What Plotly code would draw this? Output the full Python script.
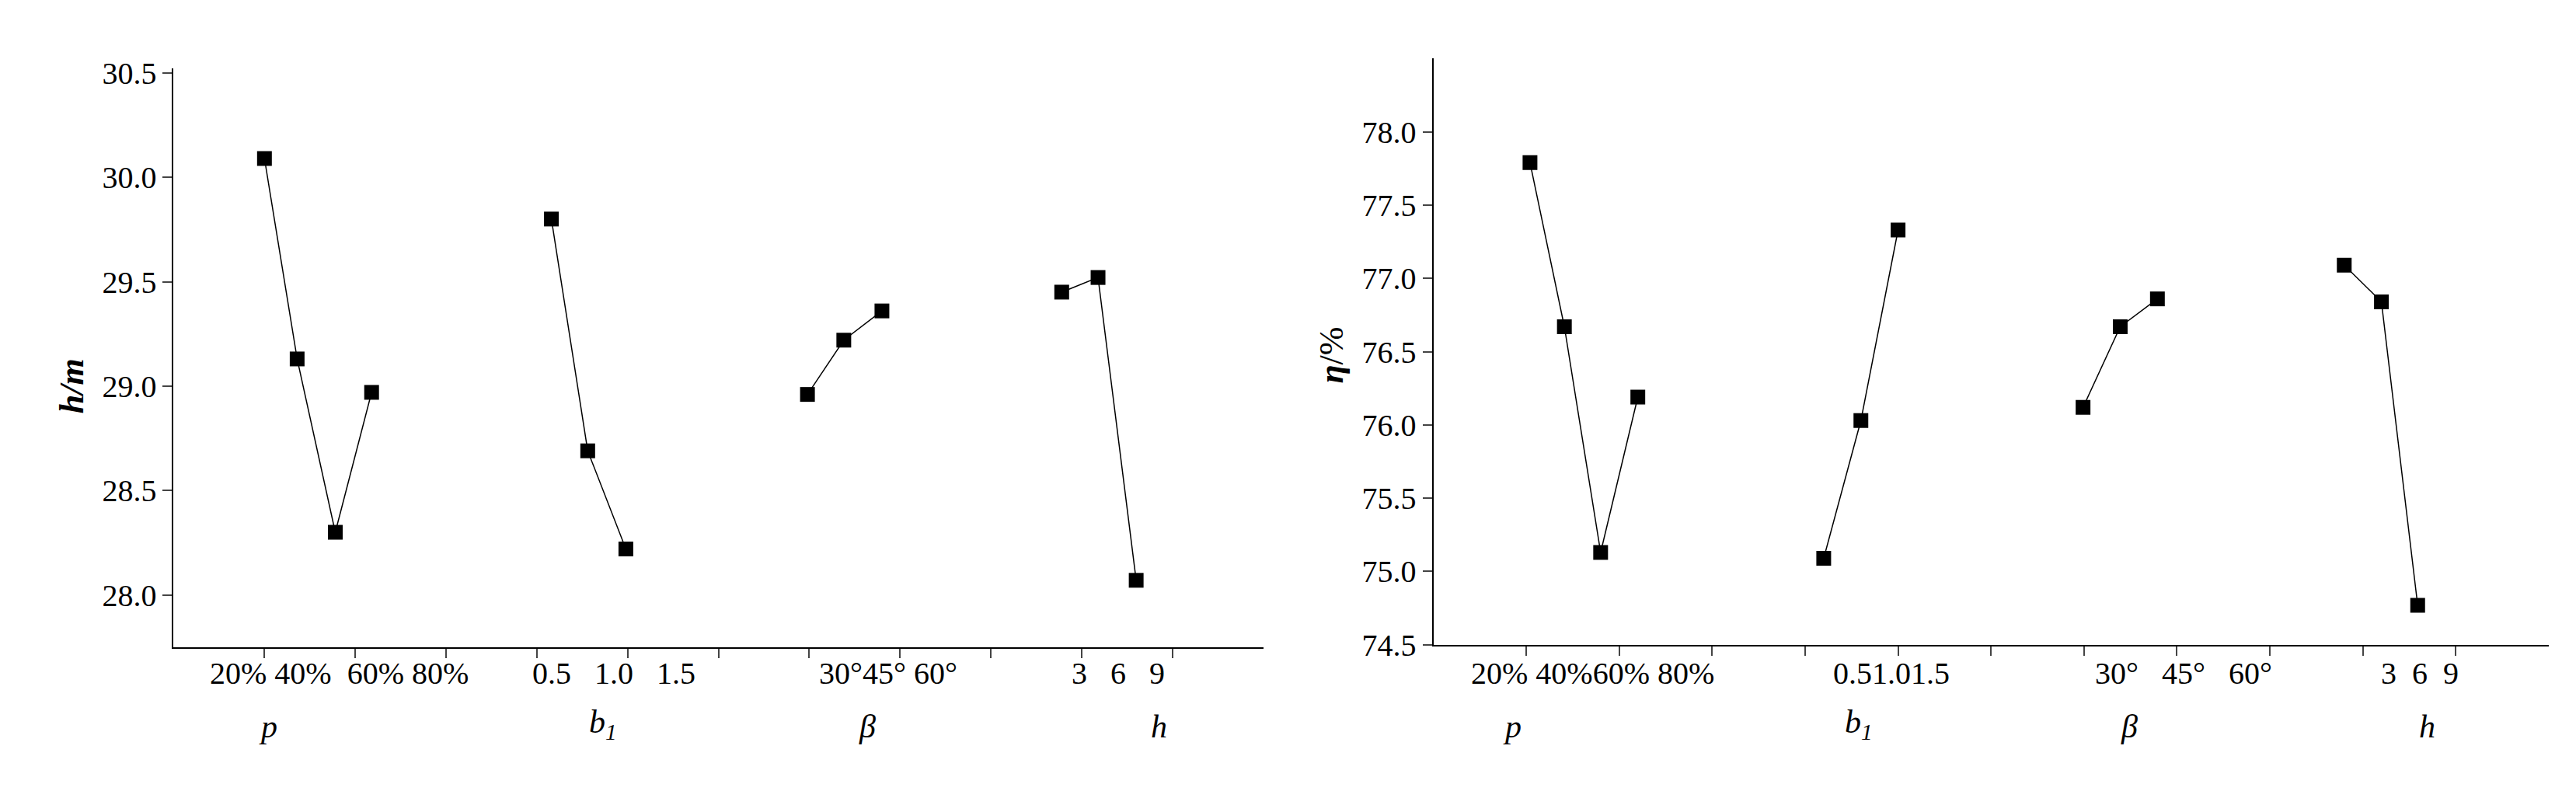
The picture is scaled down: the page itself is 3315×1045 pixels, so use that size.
import plotly.graph_objects as go

# positions on the factor axis and values
p_x = [1.0, 1.36, 1.78, 2.18]
b1_x = [4.16, 4.56, 4.98]
beta_x = [6.98, 7.38, 7.8]
h_x = [9.78, 10.18, 10.6]
head_p = [30.09, 29.13, 28.30, 28.97]
head_b1 = [29.80, 28.69, 28.22]
head_beta = [28.96, 29.22, 29.36]
head_h = [29.45, 29.52, 28.07]

p_x2 = [1.04, 1.41, 1.80, 2.20]
b1_x2 = [4.2, 4.6, 5.0]
beta_x2 = [6.99, 7.39, 7.79]
h_x2 = [9.8, 10.2, 10.59]
eff_p = [77.79, 76.67, 75.13, 76.19]
eff_b1 = [75.09, 76.03, 77.33]
eff_beta = [76.12, 76.67, 76.86]
eff_h = [77.09, 76.84, 74.77]

left_labels = ["20% 40%  60% 80%", "0.5   1.0   1.5", "30°45° 60°", "3   6   9"]
right_labels = ["20% 40%60% 80%", "0.51.01.5", "30°   45°   60°", "3  6  9"]
names = ["<i>p</i>", "<i>b<sub>1</sub></i>", "<i>β</i>", "<i>h</i>"]

FONT = "Liberation Serif"
fig = go.Figure()

def add_series(xs, ys, xa, ya):
    fig.add_trace(go.Scatter(x=xs, y=ys, xaxis=xa, yaxis=ya, mode="lines+markers",
                             line=dict(color="black", width=1.5),
                             marker=dict(symbol="square", size=19, color="black"),
                             showlegend=False))

for xs, ys in [(p_x, head_p), (b1_x, head_b1), (beta_x, head_beta), (h_x, head_h)]:
    add_series(xs, ys, "x", "y")
for xs, ys in [(p_x2, eff_p), (b1_x2, eff_b1), (beta_x2, eff_beta), (h_x2, eff_h)]:
    add_series(xs, ys, "x2", "y2")

xcommon = dict(range=[0, 12], tickvals=list(range(1, 12)), showticklabels=False,
               ticks="outside", ticklen=12, tickwidth=2, showline=True, linewidth=2,
               linecolor="black", showgrid=False, zeroline=False)
ycommon = dict(ticks="outside", ticklen=12, tickwidth=2, showline=True, linewidth=2,
               linecolor="black", showgrid=False, zeroline=False,
               tickfont=dict(family=FONT, size=40, color="black"))

fig.update_layout(
    width=3315, height=1045, plot_bgcolor="white", paper_bgcolor="white",
    margin=dict(l=0, r=0, t=0, b=0),
    xaxis=dict(domain=[0.065, 0.488], anchor="y", **xcommon),
    yaxis=dict(domain=[0.196, 0.936], range=[27.75, 30.52], tickvals=[28.0, 28.5, 29.0, 29.5, 30.0, 30.5],
               ticktext=["28.0", "28.5", "29.0", "29.5", "30.0", "30.5"], anchor="x", **ycommon),
    xaxis2=dict(domain=[0.554, 0.987], anchor="y2", **xcommon),
    yaxis2=dict(domain=[0.199, 0.949], range=[74.5, 78.5], tickvals=[74.5, 75.0, 75.5, 76.0, 76.5, 77.0, 77.5, 78.0],
                ticktext=["74.5", "75.0", "75.5", "76.0", "76.5", "77.0", "77.5", "78.0"], anchor="x2", **ycommon),
)

ann = []
lx = [1.82, 4.85, 7.87, 10.4]
nx = [1.04, 4.73, 7.64, 10.85]
rx = [1.71, 4.93, 8.07, 10.61]
rnx = [0.85, 4.58, 7.49, 10.69]
for i in range(4):
    ann.append(dict(x=lx[i], y=0.138, xref="x", yref="paper", text=left_labels[i], showarrow=False,
                    font=dict(family=FONT, size=40, color="black")))
    ann.append(dict(x=nx[i], y=0.07, xref="x", yref="paper", text=names[i], showarrow=False,
                    font=dict(family=FONT, size=42, color="black")))
    ann.append(dict(x=rx[i], y=0.138, xref="x2", yref="paper", text=right_labels[i], showarrow=False,
                    font=dict(family=FONT, size=40, color="black")))
    ann.append(dict(x=rnx[i], y=0.07, xref="x2", yref="paper", text=names[i], showarrow=False,
                    font=dict(family=FONT, size=42, color="black")))
ann.append(dict(x=58 / 3315, y=0.53, xref="paper", yref="paper", text="<b><i>h/m</i></b>", textangle=-90,
                showarrow=False, font=dict(family=FONT, size=44, color="black")))
ann.append(dict(x=1706 / 3315, y=0.57, xref="paper", yref="paper", text="<b><i>η</i></b>/%", textangle=-90,
                showarrow=False, font=dict(family=FONT, size=44, color="black")))
fig.update_layout(annotations=ann)
fig.write_html("out.html")
